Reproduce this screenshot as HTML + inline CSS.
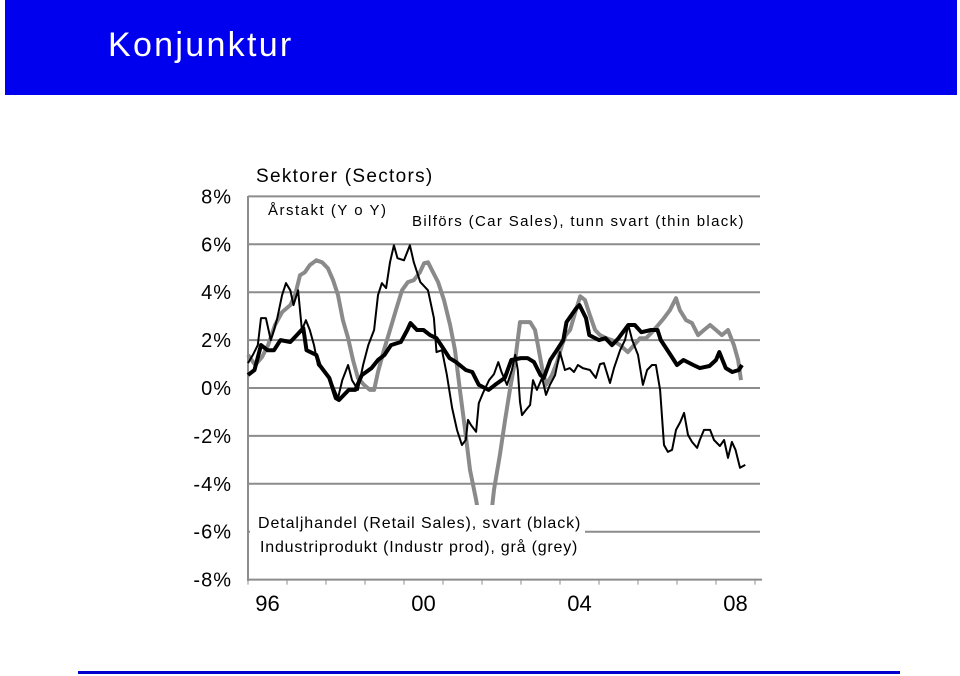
<!DOCTYPE html>
<html><head><meta charset="utf-8">
<style>
html,body{margin:0;padding:0;background:#fff;}
body{width:960px;height:676px;position:relative;overflow:hidden;font-family:"Liberation Sans",sans-serif;}
</style></head>
<body>
<div style="position:absolute;left:5px;top:0;width:952px;height:95px;background:#0000ee;"></div>
<div style="position:absolute;left:108px;top:26px;color:#fff;font-size:34px;letter-spacing:2.3px;">Konjunktur</div>
<div style="position:absolute;left:78px;top:671px;width:822px;height:3px;background:#0000cc;"></div>
<svg id="chart" width="960" height="676" style="position:absolute;left:0;top:0;" xmlns="http://www.w3.org/2000/svg" font-family="Liberation Sans, sans-serif"></svg>
<script>
const yTicks=[8,6,4,2,0,-2,-4,-6,-8];
const yTickLabels=["8%","6%","4%","2%","0%","-2%","-4%","-6%","-8%"];
const xLabels=["96","00","04","08"];
const xLabelYears=[1996,2000,2004,2008];
const retailMonths=[0,2,4,6,8,10,13,15,17,18,21,22,25,27,28,31,33,35,38,40,42,44,47,49,50,52,54,56,58,60,62,64,67,69,71,74,76,79,81,84,86,88,90,91,93,95,97,98,101,102,104,105,108,110,112,114,117,119,121,124,126,127,130,132,134,137,139,142,144,145,147,149,151,152];
const retailValues=[0.54,0.75,1.79,1.58,1.58,2.0,1.92,2.21,2.5,1.58,1.38,0.96,0.42,-0.42,-0.5,-0.08,-0.08,0.54,0.83,1.17,1.38,1.79,1.92,2.42,2.71,2.42,2.42,2.21,2.08,1.67,1.25,1.08,0.75,0.67,0.13,-0.08,0.13,0.42,1.17,1.25,1.25,1.08,0.54,0.42,1.17,1.58,2.0,2.75,3.33,3.46,2.92,2.21,2.0,2.08,1.79,2.08,2.63,2.63,2.33,2.42,2.42,2.0,1.38,0.96,1.17,0.96,0.83,0.92,1.17,1.5,0.83,0.67,0.75,0.96];
const carMonths=[0,1.5,3,4,5.5,7,8,9,10.5,11.7,13,14,15.4,16.6,17.8,19,20.3,21.5,23.7,26,27.7,29,30.8,32,33.8,35.4,37,38.8,40,41.2,42.5,43.7,44.9,46,48,49.8,51,53,55.4,57.2,58,59.7,61.2,62.8,64.3,65.8,67,67.7,68.6,70.2,71,72.3,74.2,75.7,77,78,79.7,81.2,82.2,83,83.7,84.3,85.5,86.8,87.7,88.9,90.5,91.7,92.9,94.5,96,97.5,99,100.3,101.5,103,105.2,107,108.3,109.5,111.4,112.6,114.5,116,117,118.2,120,121.5,122.8,124.3,125.5,126.8,128,129.2,130.5,131.7,133,134.2,135.4,136.6,138.2,139,140.3,142.2,143.4,145.2,146.5,147.7,148.9,150,151.4,153];
const carValues=[1.04,1.38,1.79,2.92,2.92,2.0,2.42,2.92,3.88,4.38,4.08,3.46,4.08,2.42,2.83,2.42,1.79,0.96,0.67,0.13,-0.42,0.33,0.96,0.33,-0.08,0.96,1.79,2.42,3.88,4.38,4.17,5.25,5.96,5.42,5.33,5.96,5.25,4.42,4.08,2.92,1.5,1.58,0.54,-0.83,-1.75,-2.38,-2.17,-1.33,-1.54,-1.83,-0.63,-0.21,0.33,0.58,1.08,0.67,0.13,0.75,1.38,0.75,-0.58,-1.13,-0.92,-0.71,0.33,-0.08,0.42,-0.29,0.13,0.54,1.5,0.75,0.83,0.67,0.96,0.83,0.75,0.42,1.0,1.04,0.21,0.83,1.58,2.0,2.63,2.0,1.38,0.13,0.75,0.96,0.96,-0.08,-2.38,-2.67,-2.58,-1.75,-1.42,-1.04,-1.96,-2.25,-2.5,-2.17,-1.75,-1.75,-2.17,-2.42,-2.17,-2.92,-2.25,-2.58,-3.33,-3.21];
const indMonths=[0,2.2,4.3,6.2,8.3,10.5,13,14.5,16,17.5,19,21,22.8,24.6,26.2,27.7,29.2,30.8,32.3,33.8,35.7,37.5,38.8,40,41.8,43.7,45.5,47.4,49.2,51,52.9,54.2,55.4,56.6,58.5,60.3,62.2,63.7,65.2,66.8,68.3,70.2,71.4,72.9,74.5,75.7,77.5,79.1,80.6,82.2,83.7,85.2,86.8,88.3,89.2,90.5,91.7,93.5,95.1,96.6,97.8,99.1,100.9,102.2,103.7,105.2,106.8,108.3,110.2,112,114.5,116.9,118.8,120.6,122.5,124.3,126.2,128,129.8,131.7,132.9,134.8,136.6,138.5,140.3,142.2,144,145.8,147.7,149.5,150.8,151.7];
const indValues=[1.38,0.96,1.29,1.79,2.63,3.17,3.46,3.88,4.71,4.83,5.13,5.33,5.25,5.0,4.5,3.88,2.83,2.08,1.17,0.42,0.13,-0.08,-0.08,0.67,1.58,2.42,3.25,4.08,4.42,4.5,4.83,5.21,5.25,4.92,4.42,3.67,2.63,1.58,-0.08,-1.75,-3.42,-4.67,-5.71,-6.8,-5.71,-4.25,-2.79,-1.33,-0.08,1.17,2.75,2.75,2.75,2.42,1.79,0.83,0.13,0.54,1.08,1.79,2.21,2.42,3.25,3.83,3.67,3.04,2.42,2.21,2.08,2.0,1.79,1.5,1.79,2.08,2.08,2.33,2.63,2.92,3.25,3.75,3.25,2.83,2.71,2.21,2.42,2.63,2.42,2.21,2.42,1.79,1.17,0.33];

const svg=document.getElementById('chart');
const NS='http://www.w3.org/2000/svg';
const X0=248,PXM=3.25,Y0=388,PXV=23.95;
function xs(m){return X0+m*PXM;}
function ys(v){return Y0-v*PXV;}
function mk(tag,attrs){const e=document.createElementNS(NS,tag);for(const k in attrs)e.setAttribute(k,attrs[k]);svg.appendChild(e);return e;}

yTicks.forEach((v,i)=>{
  if(v!==-8){
    const g=mk('line',{x1:X0,x2:760,y1:ys(v),y2:ys(v),stroke:'#8c8c8c','stroke-width':2});
    
    
  }
  const t=mk('text',{x:232,y:ys(v)+7,'text-anchor':'end','font-size':20,'letter-spacing':1,fill:'#000'});
  t.textContent=yTickLabels[i];
  
  
});
const ax=mk('line',{x1:X0,x2:X0,y1:196,y2:581,stroke:'#8c8c8c','stroke-width':2});


const bx=mk('line',{x1:X0,x2:762,y1:ys(-8),y2:ys(-8),stroke:'#8c8c8c','stroke-width':2});


for(let y=1996;y<=2009;y++){
  const tk=mk('line',{x1:xs((y-1996)*12),x2:xs((y-1996)*12),y1:ys(-8),y2:ys(-8)+5,stroke:'#8c8c8c','stroke-width':1});
  
  
}
xLabels.forEach((l,i)=>{
  const t=mk('text',{x:xs((xLabelYears[i]-1996)*12+6),y:611,'text-anchor':'middle','font-size':22,fill:'#000'});
  t.textContent=l;
  
  
});
function line(ms,vs,color,w,name){
  const d=ms.map((m,i)=>(i?'L':'M')+xs(m).toFixed(1)+' '+ys(vs[i]).toFixed(1)).join(' ');
  const p=mk('path',{d:d,fill:'none',stroke:color,'stroke-width':w,'stroke-linejoin':'round'});
  
  
}
line(indMonths,indValues,'#8a8a8a',4,'industrial-production-line');
line(carMonths,carValues,'#000',2,'car-sales-line');
line(retailMonths,retailValues,'#000',4,'retail-sales-line');

const box=mk('rect',{x:250,y:505,width:335,height:62,fill:'#fff'});


const texts=[
 ['Sektorer (Sectors)',256,182,19,1.3,'chart-title'],
 ['Årstakt (Y o Y)',268,215,15,1.5,'subtitle'],
 ['Bilförs (Car Sales), tunn svart (thin black)',412,226,15,1.35,'legend-car-sales'],
 ['Detaljhandel (Retail Sales), svart (black)',258,528,16,0.9,'legend-retail-sales'],
 ['Industriprodukt (Industr prod), grå (grey)',260,552,16,0.8,'legend-industrial-production']
];
texts.forEach(a=>{
  const t=mk('text',{x:a[1],y:a[2],'font-size':a[3],'letter-spacing':a[4],fill:'#000'});
  t.textContent=a[0];
  
  
});
</script>
</body></html>
